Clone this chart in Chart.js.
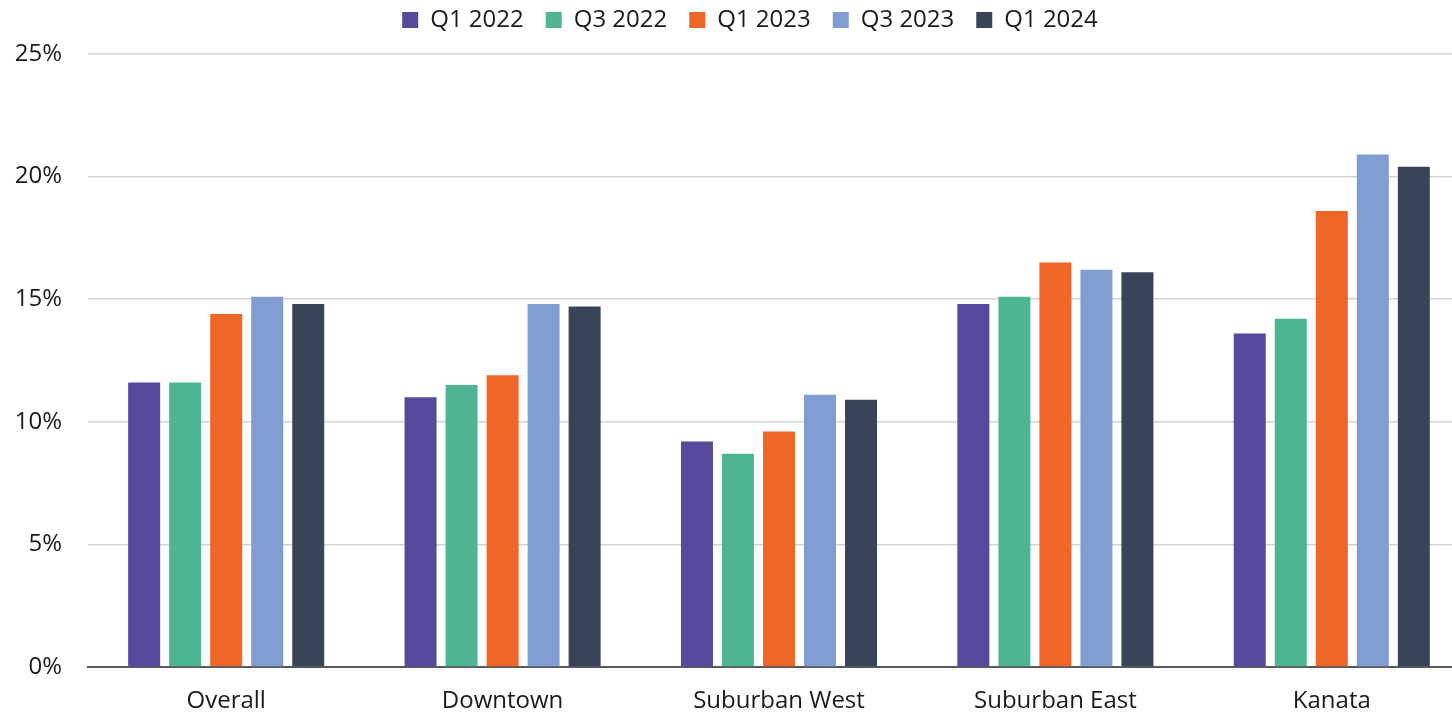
<!DOCTYPE html>
<html>
<head>
<meta charset="utf-8">
<script src="https://cdn.jsdelivr.net/npm/chart.js@4/dist/chart.umd.min.js"></script>
<style>
  html, body { margin: 0; padding: 0; background: #fff; }
  #wrap { width: 1452px; height: 717px; position: relative; }
</style>
</head>
<body>
<div id="wrap"><canvas id="c"></canvas></div>
<script>
const categories = ['Overall', 'Downtown', 'Suburban West', 'Suburban East', 'Kanata'];
const seriesNames = ['Q1 2022', 'Q3 2022', 'Q1 2023', 'Q3 2023', 'Q1 2024'];
const q1_2022 = [11.6, 11.0, 9.2, 14.8, 13.6];
const q3_2022 = [11.6, 11.5, 8.7, 15.1, 14.2];
const q1_2023 = [14.4, 11.9, 9.6, 16.5, 18.6];
const q3_2023 = [15.1, 14.8, 11.1, 16.2, 20.9];
const q1_2024 = [14.8, 14.7, 10.9, 16.1, 20.4];
const yTicks = [0, 5, 10, 15, 20, 25];

const colors = ['#57499E', '#4DB594', '#EF6629', '#7F9DD1', '#394457'];
const values = [q1_2022, q3_2022, q1_2023, q3_2023, q1_2024];

Chart.defaults.font.family = '"Open Sans", "Noto Sans", sans-serif';
Chart.defaults.color = '#1a1a1a';

// Give the legend a little more room below it and nudge the row to the right.
const legendSpacing = {
  id: 'legendSpacing',
  beforeLayout(chart) {
    const lg = chart.legend;
    if (lg && !lg._spaced) {
      const fit = lg.fit.bind(lg);
      lg.fit = function () {
        fit();
        this.height += 12;
        this.lineWidths = this.lineWidths.map(w => w - 48);
      };
      lg._spaced = true;
    }
  }
};

// The category band runs slightly past the right edge of the canvas.
const xOverhang = {
  id: 'xOverhang',
  afterLayout(chart) {
    const x = chart.scales.x;
    x.right += 18;
    x.width += 18;
    x.configure();
  }
};

new Chart(document.getElementById('c'), {
  type: 'bar',
  data: {
    labels: categories,
    datasets: seriesNames.map((name, i) => ({
      label: name,
      data: values[i],
      backgroundColor: colors[i],
      borderWidth: 0,
      barPercentage: 0.78,
      categoryPercentage: 0.742
    }))
  },
  plugins: [legendSpacing, xOverhang],
  options: {
    responsive: true,
    maintainAspectRatio: false,
    animation: false,
    layout: { padding: { top: -14, right: 0, bottom: 0, left: 0 } },
    plugins: {
      legend: {
        position: 'top',
        labels: {
          font: { size: 24 },
          boxWidth: 16,
          boxHeight: 16,
          padding: 22
        }
      },
      tooltip: { enabled: false }
    },
    scales: {
      x: {
        grid: { display: false, drawTicks: false },
        border: { color: '#595959', width: 2 },
        ticks: { font: { size: 24 }, padding: 20 },
        afterFit: (axis) => { axis.height = 50; }
      },
      y: {
        min: 0,
        max: 25,
        afterBuildTicks: (axis) => { axis.ticks = yTicks.map(v => ({ value: v })); },
        afterFit: (axis) => { axis.width = 88; },
        grid: { color: '#d4d4d4', lineWidth: 1.5, drawTicks: false },
        border: { display: false },
        ticks: {
          font: { size: 24 },
          padding: 26,
          callback: (v) => v + '%'
        }
      }
    }
  }
});
</script>
</body>
</html>
